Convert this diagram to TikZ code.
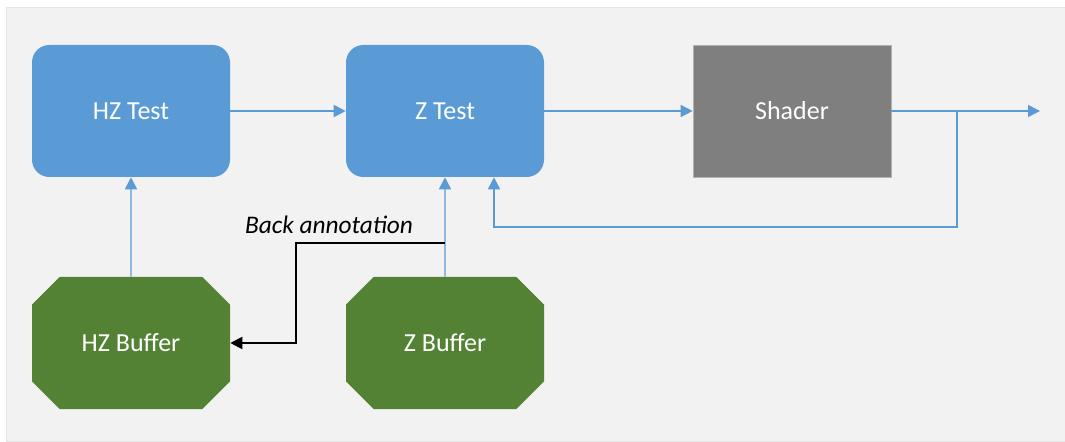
\documentclass[tikz,border=0pt]{standalone}
\usepackage{fontspec}
\setmainfont{Carlito}
\usetikzlibrary{arrows.meta, shapes, positioning}

\definecolor{testblue}{HTML}{5B9BD5}
\definecolor{buffergreen}{HTML}{548235}
\definecolor{shadergray}{HTML}{7F7F7F}
\definecolor{panelgray}{HTML}{F2F2F2}

\begin{document}
\begin{tikzpicture}[x=0.75pt,y=-0.75pt,on grid,
	stage/.style={minimum width=148.5pt, minimum height=99pt, inner sep=0pt, text=white, font=\fontsize{19.5}{23}\selectfont},
	test/.style={stage, rectangle, rounded corners=13pt, fill=testblue},
	buffer/.style={stage, chamfered rectangle, chamfered rectangle sep=14pt, fill=buffergreen},
	shader/.style={stage, rectangle, fill=shadergray, draw=gray!60, line width=0.5pt},
	flow/.style={color=testblue, line width=1.1pt, -{Triangle[length=9pt,width=9pt,fill=testblue]}},
	back/.style={color=black, line width=1.5pt, -{Triangle[length=9pt,width=9pt,fill=black]}}]
	\useasboundingbox (0,0) rectangle (1065,442);
	\fill[panelgray, draw=gray!20] (6,7) rectangle (1066,441);
	
	\node[test] (hzt) at (131,111) {HZ Test};
	\node[test, right=235.5pt of hzt] (zt) {Z Test};
	\node[shader, right=260.25pt of zt] (sh) {Shader};
	
	\node[buffer, below=174pt of hzt] (hzb) {HZ Buffer};
	\node[buffer, below=174pt of zt] (zb) {Z Buffer};
	
	\coordinate (split) at (957,111);
	\coordinate (out) at (1040,111);
	\coordinate (fb) at (494,227);
	\coordinate (ba) at (445,243);
	\coordinate (bend) at (296,243);
	
	\draw[flow] (hzt) -- (zt);
	\draw[flow] (zt) -- (sh);
	\draw[flow] (sh) -- (out);
	\draw[flow] (hzb) -- (hzt);
	\draw[flow] (zb) -- (zt);
	\draw[flow] (split) |- (fb) -- (fb |- zt.south);
	\draw[back] (ba) -- (bend) |- (hzb);
	\node[anchor=base, inner sep=0pt, font=\fontsize{19}{23}\selectfont\itshape] (balabel) at (329,234) {Back annotation};
\end{tikzpicture}
\end{document}
